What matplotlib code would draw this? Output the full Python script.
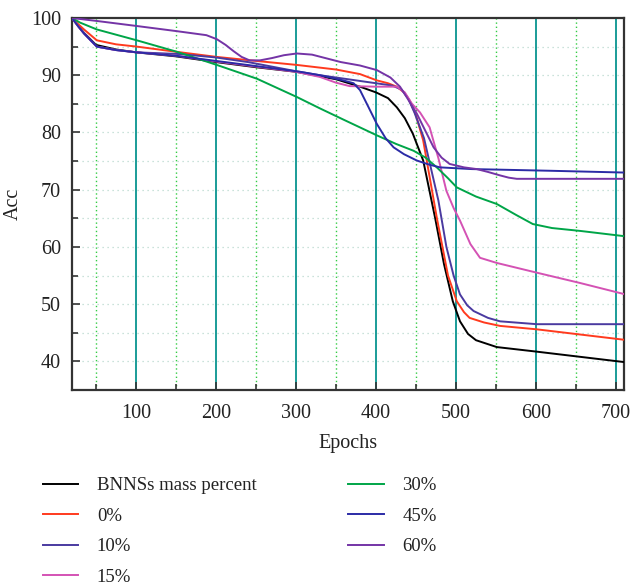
import numpy as np
import matplotlib
matplotlib.use("Agg")
import matplotlib.pyplot as plt
from matplotlib.ticker import MultipleLocator

plt.rcParams['font.family'] = ['Liberation Serif', 'DejaVu Serif']

# values (epoch, acc)
black_x = [20, 28, 35, 50, 75, 100, 150, 200, 250, 300, 350, 380, 400, 415, 426, 436, 446, 459, 474, 485, 496, 505, 515, 525, 551, 601, 655, 709]
black_y = [100, 98.6, 97.4, 95.3, 94.5, 94.0, 93.3, 92.3, 91.4, 90.6, 89.3, 88.0, 87.0, 86.0, 84.4, 82.5, 79.8, 75.1, 65.0, 57.0, 50.5, 47.0, 44.8, 43.7, 42.5, 41.7, 40.8, 39.9]

red_x = [20, 28, 35, 51, 75, 101, 150, 201, 250, 301, 350, 380, 401, 415, 426, 435, 442, 450, 459, 476, 490, 501, 510, 517, 535, 555, 601, 655, 709]
red_y = [100, 98.9, 98.0, 96.1, 95.4, 95.0, 94.1, 93.2, 92.5, 91.8, 91.0, 90.2, 89.1, 88.6, 88.0, 87.0, 85.6, 83.0, 78.6, 65.1, 55.0, 50.5, 48.6, 47.6, 46.8, 46.2, 45.6, 44.7, 43.8]

p10_x = [20, 28, 35, 51, 75, 101, 155, 200, 240, 300, 330, 360, 400, 420, 432, 440, 448, 460, 478, 488, 497, 505, 514, 522, 540, 555, 601, 709]
p10_y = [100, 98.5, 97.3, 95.0, 94.4, 94.0, 93.7, 93.1, 92.3, 90.7, 90.0, 89.4, 88.6, 88.2, 87.5, 86.0, 83.5, 79.0, 68.1, 60.0, 55.0, 51.7, 49.8, 48.8, 47.6, 47.0, 46.5, 46.5]

p15_x = [20, 28, 35, 51, 75, 101, 150, 200, 250, 300, 330, 350, 367, 400, 426, 436, 445, 455, 467, 478, 488, 497, 505, 518, 530, 551, 601, 655, 709]
p15_y = [100, 98.5, 97.3, 95.0, 94.4, 94.0, 93.4, 92.4, 91.5, 90.6, 89.7, 88.7, 88.1, 88.0, 88.0, 87.0, 85.0, 83.5, 80.9, 75.5, 69.8, 66.8, 64.6, 60.5, 58.1, 57.2, 55.5, 53.7, 51.8]

p30_x = [20, 30, 51, 101, 151, 201, 251, 301, 330, 360, 401, 425, 447, 462, 476, 490, 501, 525, 551, 575, 596, 620, 655, 709]
p30_y = [100, 99.2, 98.0, 96.1, 94.1, 91.8, 89.4, 86.2, 84.2, 82.2, 79.5, 78.0, 76.8, 75.6, 73.9, 72.0, 70.4, 68.8, 67.5, 65.6, 64.0, 63.3, 62.8, 61.9]

p45_x = [20, 28, 35, 51, 75, 101, 150, 200, 250, 305, 330, 359, 372, 380, 390, 401, 412, 422, 435, 451, 466, 480, 520, 555, 620, 709]
p45_y = [100, 98.5, 97.3, 95.0, 94.4, 94.0, 93.4, 92.5, 91.6, 90.6, 90.0, 89.1, 88.6, 87.4, 84.6, 81.5, 79.0, 77.4, 76.2, 75.1, 74.4, 73.9, 73.6, 73.5, 73.3, 73.0]

p60_x = [20, 50, 101, 151, 188, 201, 212, 222, 232, 242, 255, 270, 285, 301, 320, 356, 380, 401, 418, 430, 440, 451, 462, 472, 482, 492, 510, 526, 540, 555, 566, 576, 620, 709]
p60_y = [100, 99.5, 98.6, 97.7, 97.0, 96.3, 95.3, 94.2, 93.2, 92.6, 92.6, 93.0, 93.5, 93.8, 93.6, 92.3, 91.7, 90.9, 89.6, 88.0, 85.8, 83.3, 80.2, 77.4, 75.6, 74.5, 73.9, 73.6, 73.1, 72.5, 72.1, 71.9, 71.9, 71.9]

series = [
    ("BNNSs mass percent", black_x, black_y, "#000000"),
    ("0%", red_x, red_y, "#ff3a1e"),
    ("10%", p10_x, p10_y, "#4a3aa0"),
    ("15%", p15_x, p15_y, "#d452b4"),
    ("30%", p30_x, p30_y, "#00a548"),
    ("45%", p45_x, p45_y, "#2b2ba6"),
    ("60%", p60_x, p60_y, "#7434a6"),
]

fs = 14.5
lfs = 13.5

fig = plt.figure(figsize=(6.31, 5.87), dpi=100)
ax = fig.add_axes([72 / 631, 1 - 390 / 587, 552 / 631, 372 / 587])

ax.set_xlim(20, 710)
ax.set_ylim(35, 100)

# grid: solid teal at hundreds, dotted green at fifties, dotted grey horizontals
for x in range(100, 701, 100):
    ax.axvline(x, color="#1a9c98", lw=1.4, zorder=1)
for x in range(50, 701, 100):
    ax.axvline(x, color="#33cc44", lw=1.0, ls=(0, (1, 2)), zorder=1)
for y in range(40, 100, 5):
    ax.axhline(y, color="#b9d9cf", lw=0.9, ls=(0, (1, 3)), zorder=1)

for label, xs, ys, c in series:
    ax.plot(xs, ys, color=c, lw=1.4, label=label, zorder=3)

ax.xaxis.set_major_locator(MultipleLocator(100))
ax.xaxis.set_minor_locator(MultipleLocator(50))
ax.yaxis.set_major_locator(MultipleLocator(10))
ax.yaxis.set_minor_locator(MultipleLocator(5))
ax.tick_params(which="both", direction="in", top=False, right=False,
               color="#333333", labelsize=fs, labelcolor="#222222")
ax.tick_params(which="major", length=6, width=1.2)
ax.tick_params(which="minor", length=4, width=1.2)
ax.tick_params(axis="x", pad=10)
ax.tick_params(axis="y", pad=8)
for s in ax.spines.values():
    s.set_color("#333333")
    s.set_linewidth(1.6)

ax.set_xlabel("Epochs", fontsize=fs, color="#222222", labelpad=8)
ax.set_ylabel("Acc", fontsize=fs, color="#222222", labelpad=6)

fig.legend(loc="upper left", bbox_to_anchor=(43 / 631, 1 - 477 / 587),
           ncol=2, frameon=False, fontsize=lfs, handlelength=1.87,
           handletextpad=1.0, columnspacing=4.9, labelspacing=0.72,
           borderpad=0, borderaxespad=0, labelcolor="#222222")

fig.savefig("out.png", dpi=100)
